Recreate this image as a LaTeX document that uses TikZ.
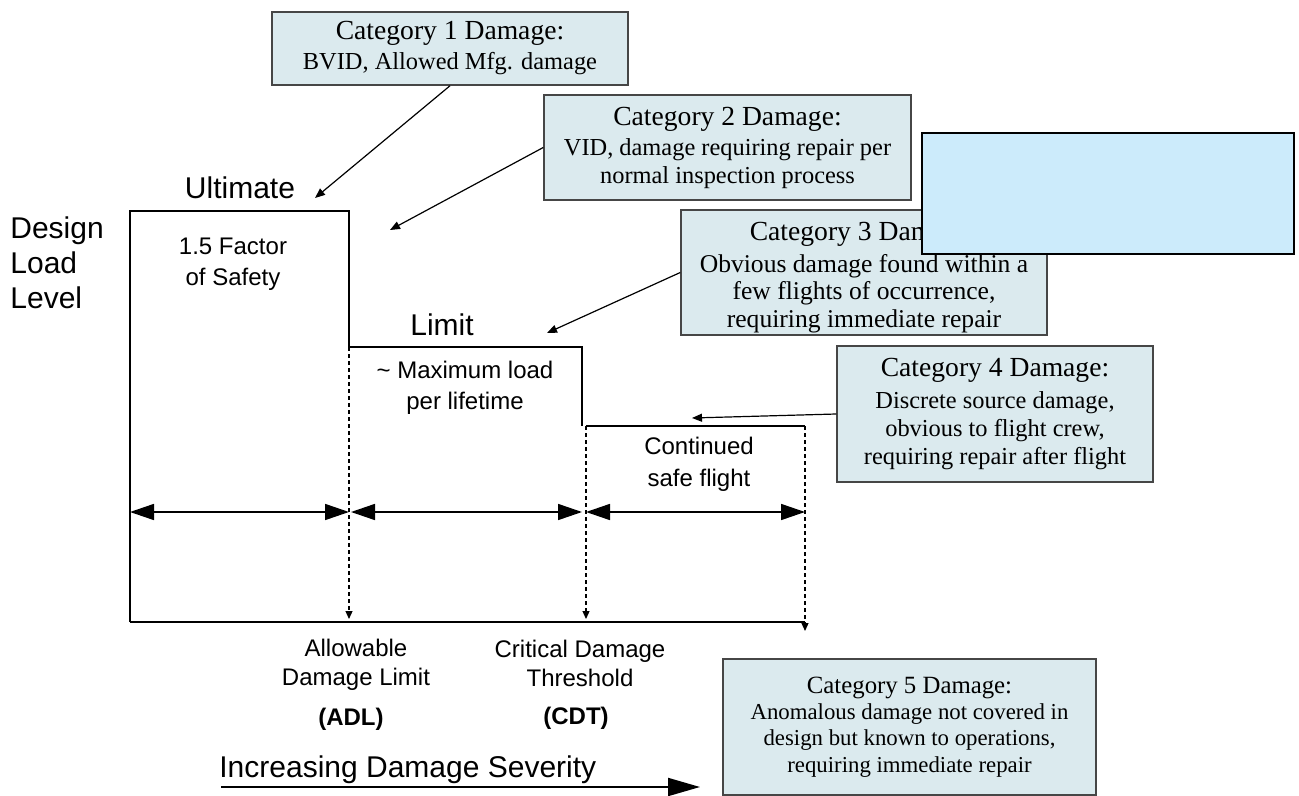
\documentclass[tikz,border=0pt]{standalone}
\usepackage{fontspec}
\setmainfont{Liberation Serif}
\setsansfont{Liberation Sans}
\usepackage{xcolor}
\usepackage{tikz}
\usetikzlibrary{arrows.meta, positioning, calc}
\definecolor{CatFill}{RGB}{219, 234, 238}
\definecolor{CatEdge}{RGB}{70, 70, 70}
\definecolor{CoverBlue}{RGB}{204, 235, 251}

\tikzset{
  catbox/.style={draw=CatEdge, fill=CatFill, line width=0.75pt, align=center,
    inner sep=0pt, font=\fontsize{12.2}{14}\selectfont},
  pointer/.style={-{Triangle[length=5pt,width=4pt]}, line width=0.6pt},
  span/.style={{Triangle[length=12pt,width=8pt]}-{Triangle[length=12pt,width=8pt]}, line width=0.8pt},
  drop/.style={dash pattern=on 2pt off 1.5pt, line width=0.6pt, -{Triangle[length=4pt,width=3.5pt]}},
  envelope/.style={line width=1pt},
  bigtxt/.style={font=\sffamily\fontsize{15}{17.5}\selectfont, inner sep=0pt},
  midtxt/.style={font=\sffamily\fontsize{12}{15.5}\selectfont, align=center, inner sep=0pt},
}
\newcommand{\cattitle}[1]{{\fontsize{13.8}{16}\selectfont #1}}

\begin{document}
\begin{tikzpicture}[x=0.5pt, y=-0.5pt]
  \useasboundingbox (0,0) rectangle (1299,796);

  % load envelope
  \coordinate (o) at (130,622);
  \coordinate (ultL) at (130,211);
  \coordinate (ultR) at (349,211);
  \coordinate (adlT) at (349,347);
  \coordinate (limR) at (582,347);
  \coordinate (limB) at (582,426);
  \coordinate (cdtT) at (586,426);
  \coordinate (endT) at (805,426);
  \coordinate (endB) at (805,622);
  \draw[envelope] (o) -- (ultL) -- (ultR) -- (adlT) -- (limR) -- (limB);
  \draw[envelope] (cdtT) -- (endT);
  \draw[envelope] (o) -- (endB);

  % dashed drops to the axis
  \coordinate (adlB) at (349,619);
  \coordinate (cdtB) at (586,619);
  \coordinate (endD) at (805,631);
  \draw[drop] (adlT) -- (adlB);
  \draw[drop] (cdtT) -- (cdtB);
  \draw[drop] (endT) -- (endD);

  % spans
  \coordinate (spanA) at (130,512);
  \coordinate (spanB) at (349,512);
  \coordinate (spanC) at (351,512);
  \coordinate (spanD) at (582,512);
  \coordinate (spanE) at (586,512);
  \coordinate (spanF) at (805,512);
  \draw[span] (spanA) -- (spanB);
  \draw[span] (spanC) -- (spanD);
  \draw[span] (spanE) -- (spanF);

  % chart labels
  \node[bigtxt] (ult) at (240,188) {Ultimate};
  \node[bigtxt] (lim) at (442,325) {Limit};
  \node[bigtxt, align=left, anchor=west] (dll) at (10,263) {Design\\Load\\Level};
  \node[midtxt] (fos) at (233,264) {1.5 Factor\\of Safety};
  \node[midtxt] (maxl) at (465,388) {\textasciitilde{} Maximum load\\per lifetime};
  \node[midtxt, font=\sffamily\fontsize{12}{16}\selectfont] (csf) at (699,464) {Continued\\safe flight};
  \node[midtxt, font=\sffamily\fontsize{12}{14.5}\selectfont] (adl) at (356,665) {Allowable\\Damage Limit};
  \node[midtxt, font=\sffamily\bfseries\fontsize{12}{14}\selectfont] (adlx) at (351,719) {(ADL)};
  \node[midtxt, font=\sffamily\fontsize{12}{14.5}\selectfont] (cdt) at (580,663) {Critical Damage\\Threshold};
  \node[midtxt, font=\sffamily\bfseries\fontsize{12}{14}\selectfont] (cdtx) at (576,718) {(CDT)};
  \node[bigtxt, anchor=west] (sev) at (219,770) {Increasing Damage Severity};
  \coordinate (sevL) at (221,787);
  \coordinate (sevR) at (700,787);
  \draw[line width=1pt, -{Triangle[length=16pt,width=9pt]}] (sevL) -- (sevR);

  % damage categories
  \node[catbox, minimum width=178pt, minimum height=36.5pt] (cat1) at (450,48.5)
    {\cattitle{Category 1 Damage:}\\[1pt]BVID, Allowed Mfg. damage};
  \node[catbox, minimum width=183.5pt, minimum height=52.5pt] (cat2) at (727.5,147.5)
    {\cattitle{Category 2 Damage:}\\[1pt]VID, damage requiring repair per\\normal inspection process};
  \node[catbox, minimum width=183pt, minimum height=62.5pt,
    font=\fontsize{12.8}{13.6}\selectfont] (cat3) at (864,272.5)
    {\rule{0pt}{14pt}\cattitle{Category 3 Damage:}\\[2.5pt]Obvious damage found within a\\few flights of occurrence,\\requiring immediate repair};
  \node[draw, line width=1pt, fill=CoverBlue, anchor=north west, inner sep=0pt,
    minimum width=186pt, minimum height=60.5pt] (cover) at (921,132) {};
  \node[catbox, minimum width=158pt, minimum height=68pt] (cat4) at (995,414)
    {\cattitle{Category 4 Damage:}\\[2pt]Discrete source damage,\\obvious to flight crew,\\requiring repair after flight};
  \node[catbox, minimum width=186.5pt, minimum height=68pt,
    font=\fontsize{11.4}{13.2}\selectfont] (cat5) at (909.5,727)
    {{\fontsize{12.4}{14}\selectfont Category 5 Damage:}\\Anomalous damage not covered in\\design but known to operations,\\requiring immediate repair};

  % pointers
  \coordinate (p1) at (315,198);
  \coordinate (p2) at (390,230);
  \coordinate (p3) at (547,333);
  \coordinate (p4) at (692,418);
  \draw[pointer] (cat1.south) -- (p1);
  \draw[pointer] (cat2.west) -- (p2);
  \draw[pointer] (cat3.west) -- (p3);
  \draw[pointer] (cat4.west) -- (p4);
\end{tikzpicture}
\end{document}
